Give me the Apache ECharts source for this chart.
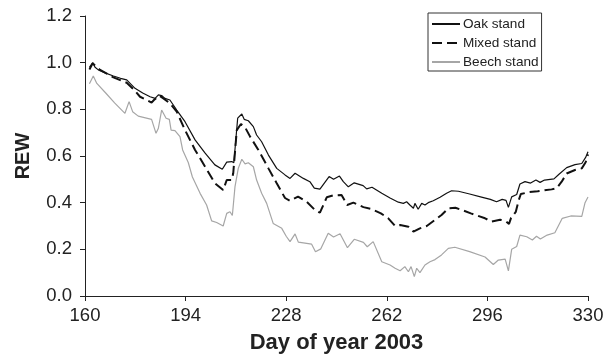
<!DOCTYPE html>
<html>
<head>
<meta charset="utf-8">
<script src="https://cdn.jsdelivr.net/npm/echarts@6/dist/echarts.min.js"></script>
<style>html,body{margin:0;padding:0;background:#fff}#c{width:614px;height:361px}</style>
</head>
<body>
<div id="c"></div>
<script>
const xTicks = [160, 194, 228, 262, 296, 330];
const yTicks = [0, 0.2, 0.4, 0.6, 0.8, 1.0, 1.2];
const seriesNames = ['Oak stand', 'Mixed stand', 'Beech stand'];

const oakDays = [161.5,162.6,163.4,164.5,167,169.6,172,174.1,176.9,179.5,182,183.7,184.8,185.9,187,188.7,191,193.8,197.2,200.6,203.9,206.4,207.9,209.6,210.3,211.6,213,213.8,215.2,216.9,218,219.7,222,224.8,227.6,229.3,231,233.8,236,237.5,239.4,242.5,244,246,247.3,249,251,254,255.2,257,260.3,263.1,265.9,267.6,268.7,269.8,271,271.5,272.6,273.8,274.9,276,277.7,280,282.2,283.9,286.2,290,294,297,299.1,301,302.3,303.1,304.2,305.9,307,308.7,310.6,312.4,313.8,315.3,318.5,320.2,322.8,325.6,327.9,329.2,330];
const oakValues = [0.98,1.0,0.98,0.969,0.955,0.943,0.933,0.926,0.89,0.87,0.854,0.847,0.862,0.859,0.847,0.84,0.797,0.747,0.669,0.612,0.562,0.543,0.574,0.576,0.571,0.762,0.78,0.757,0.751,0.726,0.69,0.661,0.604,0.547,0.519,0.504,0.526,0.504,0.49,0.462,0.458,0.512,0.5,0.514,0.49,0.468,0.485,0.473,0.459,0.466,0.44,0.42,0.402,0.397,0.404,0.39,0.376,0.397,0.372,0.397,0.39,0.4,0.408,0.423,0.44,0.451,0.449,0.437,0.424,0.414,0.404,0.414,0.41,0.38,0.425,0.435,0.48,0.49,0.484,0.497,0.487,0.497,0.502,0.522,0.55,0.563,0.568,0.594,0.618];

const mixedDays = [161.5,162.6,165.1,169.6,174.1,176.5,178.6,182.5,183.3,185.1,186.5,188.7,191,193.8,197.2,200.6,203.9,206.7,207.9,209.6,210.1,211.3,212.7,214.1,215.8,218.6,222,224.8,227.6,229.3,232,234.9,237.7,239.4,241.7,243.9,246.7,248.6,250.7,254.1,256.5,260,262.5,264.8,266.5,269.3,271,273.2,275.5,278.3,280.5,282.8,285.2,287.3,290.4,295.2,297.4,300.3,302.4,303.3,304,305.6,306.6,307.3,310,313,317.7,319.4,321.1,322.8,325.6,327.9,329.2,330];
const mixedValues = [0.971,0.997,0.969,0.937,0.914,0.885,0.854,0.829,0.84,0.859,0.847,0.826,0.79,0.711,0.626,0.554,0.483,0.454,0.497,0.497,0.526,0.711,0.737,0.723,0.683,0.626,0.547,0.483,0.42,0.408,0.426,0.404,0.369,0.357,0.423,0.431,0.433,0.39,0.4,0.381,0.374,0.354,0.333,0.3,0.304,0.297,0.276,0.29,0.3,0.326,0.347,0.376,0.378,0.369,0.354,0.333,0.319,0.327,0.319,0.309,0.335,0.361,0.411,0.437,0.445,0.449,0.457,0.462,0.49,0.525,0.54,0.547,0.573,0.607];

const beechDays = [161.5,162.8,164,167,170,173.5,174.9,176.1,178,182.5,184,184.8,185.9,187.4,188.5,189.1,190.4,192.1,193,194.9,196.3,198.9,201.1,202.8,204.5,206.7,207.9,209,209.8,210.7,211.8,213,214.1,215.2,216.9,218,219.7,221.4,223.6,226.5,228,229.3,231,232.1,236.6,237.9,239.7,242.2,244,246.2,248.7,251,254.1,255.4,257.4,260.3,263.1,264.8,266.5,268.1,269.3,270.2,271.3,272.1,273.2,274.9,276.6,278.3,280.5,282.8,285,290,295.2,298,299.7,302,303.1,304.2,305.9,307,309.3,311.2,312.6,313.9,316.2,318.8,321.3,324.2,327.9,329,330];
const beechValues = [0.91,0.943,0.911,0.87,0.828,0.783,0.833,0.79,0.771,0.757,0.697,0.719,0.797,0.762,0.757,0.711,0.709,0.683,0.626,0.572,0.51,0.44,0.39,0.322,0.315,0.3,0.354,0.361,0.345,0.469,0.547,0.586,0.566,0.571,0.554,0.497,0.44,0.397,0.311,0.29,0.256,0.233,0.266,0.231,0.222,0.19,0.202,0.269,0.253,0.267,0.207,0.243,0.23,0.211,0.233,0.147,0.133,0.119,0.108,0.126,0.104,0.126,0.083,0.119,0.1,0.133,0.147,0.156,0.176,0.204,0.209,0.19,0.167,0.135,0.154,0.158,0.108,0.2,0.212,0.261,0.254,0.24,0.256,0.244,0.261,0.271,0.333,0.343,0.341,0.4,0.424];

const zip = (d, v) => d.map((x, i) => [x, v[i]]);
const FONT = 'Liberation Sans';

const chart = echarts.init(document.getElementById('c'), null, {renderer: 'canvas'});
chart.setOption({
  animation: false,
  backgroundColor: '#fff',
  textStyle: {fontFamily: FONT},
  grid: {left: 85, right: 26, top: 16, bottom: 65, containLabel: false},
  legend: {
    orient: 'vertical',
    left: 428, top: 13,
    itemWidth: 28, itemHeight: 14, itemGap: 5,
    padding: [4, 3, 2, 3],
    borderColor: '#333', borderWidth: 1,
    itemStyle: {opacity: 0},
    textStyle: {fontFamily: FONT, fontSize: 13.6, color: '#222', padding: [0, 0, 0, -2]},
    data: seriesNames
  },
  xAxis: {
    type: 'value', min: 160, max: 330,
    axisLine: {lineStyle: {color: '#222', width: 1}},
    axisTick: {show: true, length: 5, customValues: xTicks, lineStyle: {color: '#222'}},
    axisLabel: {customValues: xTicks, fontSize: 18.5, color: '#222', margin: 10, fontFamily: FONT},
    splitLine: {show: false},
    name: 'Day of year 2003', nameLocation: 'middle', nameGap: 36,
    nameTextStyle: {fontSize: 22, fontWeight: 'bold', color: '#222', fontFamily: FONT}
  },
  yAxis: {
    type: 'value', min: 0, max: 1.2, interval: 0.2,
    axisLine: {show: true, lineStyle: {color: '#222', width: 1}},
    axisTick: {show: true, length: 5, lineStyle: {color: '#222'}},
    axisLabel: {fontSize: 18.5, color: '#222', margin: 13, fontFamily: FONT, formatter: v => v.toFixed(1)},
    splitLine: {show: false},
    name: 'REW', nameLocation: 'middle', nameGap: 52,
    nameTextStyle: {fontSize: 20, fontWeight: 'bold', color: '#222', fontFamily: FONT}
  },
  series: [
    {name: seriesNames[0], type: 'line', symbol: 'none', data: zip(oakDays, oakValues),
     lineStyle: {color: '#111', width: 1.2}, itemStyle: {color: '#111'}},
    {name: seriesNames[1], type: 'line', symbol: 'none', data: zip(mixedDays, mixedValues),
     lineStyle: {color: '#111', width: 2, type: [10, 5]}, itemStyle: {color: '#111'}},
    {name: seriesNames[2], type: 'line', symbol: 'none', data: zip(beechDays, beechValues),
     lineStyle: {color: '#a6a6a6', width: 1.2}, itemStyle: {color: '#a6a6a6'}}
  ]
});
</script>
</body>
</html>
